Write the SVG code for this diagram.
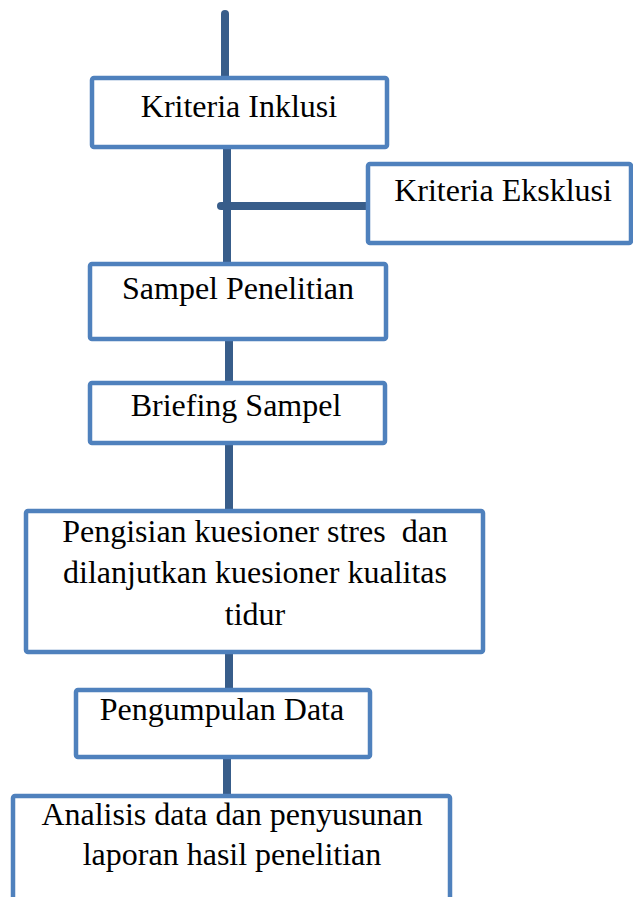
<svg xmlns="http://www.w3.org/2000/svg" width="633" height="897" viewBox="0 0 633 897">
<style>
.box{fill:#fff;stroke:#4F81BD;stroke-width:4.5}
.t{font-family:"Liberation Serif","Times New Roman",serif;font-size:32px;fill:#000;text-anchor:middle}
.c{stroke:#385D8A;stroke-width:8;fill:none;stroke-linecap:round}
</style>
<rect width="633" height="897" fill="#fff"/>
<g id="connectors">
<line class="c" x1="225" y1="14" x2="225" y2="80"/>
<line class="c" x1="227" y1="145" x2="227" y2="265"/>
<line class="c" x1="221" y1="206" x2="369" y2="206"/>
<line class="c" x1="229" y1="337" x2="229" y2="384"/>
<line class="c" x1="229" y1="441" x2="229" y2="512"/>
<line class="c" x1="229" y1="650" x2="229" y2="691"/>
<line class="c" x1="227" y1="755" x2="227" y2="797"/>
</g>
<g id="kriteria-inklusi">
<rect class="box" x="92" y="78" width="295" height="69" rx="2"/>
<text class="t" x="239" y="117">Kriteria Inklusi</text>
</g>
<g id="kriteria-eksklusi">
<rect class="box" x="368" y="164" width="263" height="79" rx="2"/>
<text class="t" x="503" y="201">Kriteria Eksklusi</text>
</g>
<g id="sampel-penelitian">
<rect class="box" x="90" y="264" width="296" height="75" rx="2"/>
<text class="t" x="238" y="299">Sampel Penelitian</text>
</g>
<g id="briefing-sampel">
<rect class="box" x="90" y="383" width="295" height="60" rx="2"/>
<text class="t" x="236" y="416">Briefing Sampel</text>
</g>
<g id="pengisian-kuesioner">
<rect class="box" x="26" y="511" width="457" height="141" rx="2"/>
<text class="t" x="255" y="542" xml:space="preserve">Pengisian kuesioner stres  dan</text>
<text class="t" x="255" y="583">dilanjutkan kuesioner kualitas</text>
<text class="t" x="255" y="625">tidur</text>
</g>
<g id="pengumpulan-data">
<rect class="box" x="76" y="690" width="294" height="67" rx="2"/>
<text class="t" x="222" y="720">Pengumpulan Data</text>
</g>
<g id="analisis-data">
<rect class="box" x="13" y="796" width="437" height="120" rx="2"/>
<text class="t" x="232" y="825">Analisis data dan penyusunan</text>
<text class="t" x="232" y="865">laporan hasil penelitian</text>
</g>
</svg>
